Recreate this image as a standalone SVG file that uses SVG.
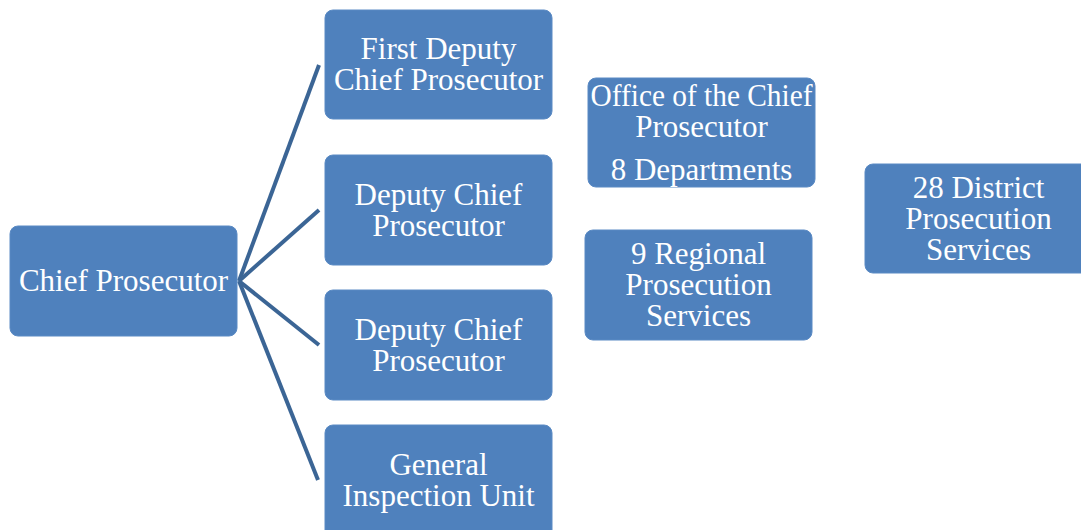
<svg xmlns="http://www.w3.org/2000/svg" width="1081" height="530" viewBox="0 0 1081 530">
  <style>
    .box { fill: #4f81bd; stroke: #5a8ac4; stroke-width: 1; }
    .lbl { fill: #ffffff; font-family: "Liberation Serif", "DejaVu Serif", serif; font-size: 31px; text-anchor: middle; }
    .link { stroke: #3b6595; stroke-width: 4; fill: none; stroke-linecap: butt; }
  </style>
  <rect width="1081" height="530" fill="#ffffff"/>

  <!-- connectors from the chief prosecutor to the four deputies -->
  <g id="connectors">
    <line class="link" x1="239" y1="281" x2="319" y2="65"/>
    <line class="link" x1="239" y1="281" x2="319" y2="210"/>
    <line class="link" x1="239" y1="281" x2="319" y2="345"/>
    <line class="link" x1="239" y1="281" x2="318" y2="480"/>
  </g>

  <g id="chief-prosecutor">
    <rect class="box" x="10" y="226" width="227" height="110" rx="8"/>
    <text class="lbl" x="123.5" y="291">Chief Prosecutor</text>
  </g>

  <g id="first-deputy">
    <rect class="box" x="325" y="10" width="227" height="109" rx="8"/>
    <text class="lbl" x="438.5" y="59">First Deputy</text>
    <text class="lbl" x="438.5" y="90">Chief Prosecutor</text>
  </g>

  <g id="deputy-1">
    <rect class="box" x="325" y="155" width="227" height="110" rx="8"/>
    <text class="lbl" x="438.5" y="205">Deputy Chief</text>
    <text class="lbl" x="438.5" y="236">Prosecutor</text>
  </g>

  <g id="deputy-2">
    <rect class="box" x="325" y="290" width="227" height="110" rx="8"/>
    <text class="lbl" x="438.5" y="340">Deputy Chief</text>
    <text class="lbl" x="438.5" y="371">Prosecutor</text>
  </g>

  <g id="inspection-unit">
    <rect class="box" x="325" y="425" width="227" height="115" rx="8"/>
    <text class="lbl" x="438.5" y="475">General</text>
    <text class="lbl" x="438.5" y="506">Inspection Unit</text>
  </g>

  <g id="office">
    <rect class="box" x="588" y="78" width="227" height="109" rx="8"/>
    <text class="lbl" x="701.5" y="106" textLength="222" lengthAdjust="spacingAndGlyphs">Office of the Chief</text>
    <text class="lbl" x="701.5" y="137">Prosecutor</text>
    <text class="lbl" x="701.5" y="180">8 Departments</text>
  </g>

  <g id="regional">
    <rect class="box" x="585" y="230" width="227" height="110" rx="8"/>
    <text class="lbl" x="698.5" y="264">9 Regional</text>
    <text class="lbl" x="698.5" y="295">Prosecution</text>
    <text class="lbl" x="698.5" y="326">Services</text>
  </g>

  <g id="district">
    <rect class="box" x="865" y="164" width="227" height="109" rx="8"/>
    <text class="lbl" x="978.5" y="198">28 District</text>
    <text class="lbl" x="978.5" y="229">Prosecution</text>
    <text class="lbl" x="978.5" y="260">Services</text>
  </g>
</svg>
